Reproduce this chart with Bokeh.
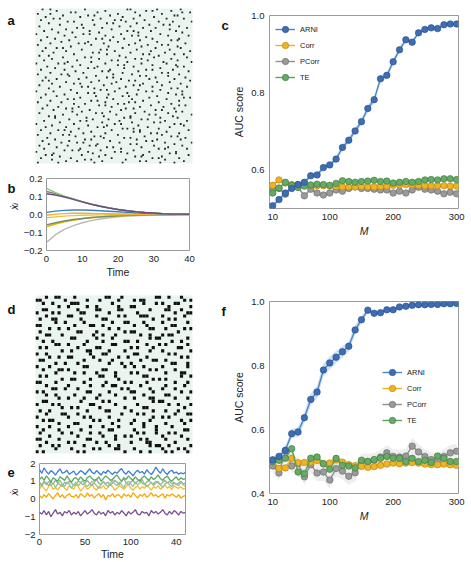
from bokeh.plotting import figure
from bokeh.layouts import column, row
from bokeh.models import Legend, LegendItem, FixedTicker, Range1d
from bokeh.core.properties import value
from bokeh.embed import file_html
from bokeh.resources import INLINE

FONT = "Liberation Sans"

# ---------------- panel a : sparse matrix (100 x 100), column indices of black cells per row
a_rows = [
 [4,9,31,58,60,77,92],[13,44,70,74,86],[22,25,39,63,93,98],[1,9,52,80],[17,33,37,47,66,88,90],
 [6,28,55,75],[11,15,41,62,83,94],[3,36,50,54,69],[20,24,57,78,87,99],[8,45,49,64],
 [15,29,37,72,81,85],[2,53,60,91],[26,30,42,68,76,96],[10,19,48,85],[5,34,58,62,73,89],
 [14,23,40,65,93],[0,30,34,54,79],[18,44,61,65,84,97],[7,25,49,70],[12,38,42,56,74,91],
 [3,21,47,66,86,90],[16,33,52,77],[9,27,31,43,63,95],[1,35,59,71,80,84],[22,46,67,90],
 [6,13,17,55,76,92],[29,41,45,64,85],[4,19,50,73,98],[11,36,40,60,82],[24,45,68,72,88,94],
 [2,8,53,78],[17,31,35,57,75,96],[10,40,63,67,86],[5,26,48,52,71,90],[20,35,58,81,99],
 [0,14,18,44,67,83],[28,52,56,74,89],[7,23,39,62,90,94],[12,33,37,56,79],[3,18,47,70,74,87],
 [25,42,46,65,97],[9,30,55,80,84],[1,16,20,49,61,91],[21,38,66,70,84],[6,32,45,49,76,95],
 [13,27,54,72,88],[4,8,40,59,63,98],[19,35,51,77,85],[10,24,28,48,68,92],[2,43,62,66,80],
 [15,29,33,57,74,96],[8,37,53,86,90],[22,41,45,65,79],[0,11,50,70,74,93],[26,33,37,58,84],
 [6,18,46,64,89,93],[13,38,55,59,77],[3,28,45,72,94,98],[20,24,49,61,83],[9,35,39,68,91],
 [1,16,44,59,63,78],[24,31,52,56,86],[7,40,44,73,91,95],[14,27,48,66,81],[4,19,23,57,62,88],
 [11,34,54,76,80],[23,29,47,69,89,93],[2,38,42,63,84],[17,26,51,72,76,99],[8,12,43,60,87],
 [12,32,56,60,79,90],[21,36,46,67,71],[5,28,32,53,82,96],[15,42,61,75,79],[0,24,50,54,88,92],
 [10,33,45,65,94],[6,19,39,43,71,85],[27,55,58,62,78],[3,14,18,48,66,97],[22,35,62,66,83],
 [9,30,44,73,77,91],[1,17,21,52,80],[25,37,41,69,86,90],[7,43,56,60,95],[12,31,35,64,77,92],
 [4,21,47,70,74],[16,26,30,53,82,99],[8,39,60,64,88],[2,20,34,38,75,93],[13,45,49,67,84],
 [5,28,54,78,82,96],[18,23,27,41,62],[0,33,50,54,72,89],[11,36,58,85,89],[6,10,29,44,68,97],
 [15,40,63,67,80],[3,22,48,74,78,91],[10,31,35,57,82],[19,26,42,66,70,94],[1,14,37,55,79,88],
]

# ---------------- panel d : binary matrix (50 x 50)
d_rows = [
 "...#..##.. ..#....... ..##...#.. ........## ..#...#...",
 "##.......# ......#... #.....#... .#.##..... .......#.#",
 "..#..#.... .###...... ....#..... ....#...#. #...##....",
 ".......#.. #.....#..# ......#... ##........ ..#......#",
 "..##...... ...#.....# #.....##.. ......#... .##...#...",
 "#....#.#.. ....##.... ...#...... ..#....... ....#...##",
 "...#...... ##.......# ......#.#. ...###.... #......#..",
 ".#...##... ....#..... .##....... .......#.. ..#.#.....",
 "......#..# .....#.... ....#...## ....#..... #.......#.",
 "##........ ..#....##. .#........ .#...#.... ...##.....",
 "....#..#.. #......... ...#..#... ......##.. .#.....#.#",
 ".#........ ...##....# ........#. ##........ .....#....",
 "...##...#. ........#. .#...#.... ...#..#... #.##......",
 "#......... .##......# ....#..... ......#.## ........#.",
 "..#..#.... ......#... .#......## ..#....... ...#..#...",
 "......##.. #....#.... ....##.... .....#...# .#......#.",
 ".#.#...... ...#.....# #......... #.#....#.. .....##...",
 "........#. .#....##.. ...#....#. ......#... #........#",
 "#..#...... .......#.. .##....... .##....... ..#.#.....",
 "....#..#.. ##......#. ......#..# .....#.... ......#.#.",
 ".##....... .....#.... #...#..... ...#...##. .#........",
 "......#..# ...#...... ...#...#.. #......... ...##...#.",
 "#...#..... .....##... ........#. .#..#..... #.......#.",
 "..#....##. #......... .##....... ......#.#. ....#.....",
 "......#... ..#..#...# .....#.... #.#....... .#....##..",
 ".#.#...... .......... ##...#.... ....##.... ......#..#",
 "........#. .##....#.. ......#... .......#.# .#........",
 "##....#... .....#.... ..#.....#. #....#.... ....#...#.",
 "...#...... #......#.. .#..##.... ...#...... .#.....#..",
 ".....##..# ...#...... .......#.# ......#... #...#.....",
 "#.#....... ......##.. ...#...... ##.....#.. ......#..#",
 "...#..#... ..#....... #....#.... ....#..... .##.......",
 ".......#.. #....#...# ........#. .#....##.. ....#...#.",
 "..##...... ....#..... .#.#...... .......#.# #.........",
 "#....#.#.. .......##. .....#.... ..#....... ..#..#...#",
 "........#. .#.#...... #.......#. ....##.... .......#..",
 ".#..#..... ......#... ..##...... #......#.. .#...#....",
 "...#....## ...#...... .......#.. ..#.#..... ....#...##",
 "#......... #....#.#.. ...#...... .......#.. #.#.......",
 "..#.##.... ........#. #.....#... .#....#... ......#..#",
 ".......#.. ..##...... ....#..... #...#..... .#.....#..",
 "#...#..... #......#.. .#....#... ....#...#. ...#......",
 "..#....#.. ....#..... ...##..... .#......#. .......##.",
 ".#......#. .#.....#.. #......... ..#.#...#. ..#.#.....",
 "....#..... ...#...... .#...#..#. #......... #.....#...",
 "##.....#.. ......##.. .....#.... ...#.#.... .#......#.",
 "...#...... #.#......# ..#....... #....##... ....#.....",
 ".#...#.#.. .....#.... ...#..#... ......#.## ..#......#",
 "......#... .#......#. #....##... .#........ #....#.#..",
 "#.#....... ...#.#.... ........#. ...#..#... .#.#....#.",
]

# ---------------- panel b : relaxation curves
b_time = [0, 2.5, 5, 7.5, 10, 12.5, 15, 17.5, 20, 22.5, 25, 27.5, 30, 32.5, 35, 37.5, 40]
b_green = [0.145,0.122,0.102,0.086,0.071,0.058,0.047,0.037,0.029,0.022,0.016,0.012,0.008,0.005,0.003,0.002,0.001]
b_purple = [0.115,0.108,0.097,0.084,0.070,0.057,0.046,0.036,0.028,0.021,0.015,0.011,0.008,0.005,0.003,0.002,0.001]
b_gray = [0.128,0.116,0.101,0.086,0.071,0.058,0.046,0.036,0.028,0.021,0.015,0.011,0.008,0.005,0.003,0.002,0.001]
b_blue = [0.012,0.019,0.023,0.025,0.025,0.024,0.021,0.018,0.015,0.012,0.009,0.007,0.005,0.003,0.002,0.001,0.001]
b_yellow1 = [-0.004,0.002,0.005,0.007,0.007,0.006,0.005,0.004,0.003,0.003,0.002,0.001,0.001,0.001,0.0,0.0,0.0]
b_yellow2 = [-0.018,-0.013,-0.009,-0.006,-0.004,-0.003,-0.002,-0.001,-0.001,0.0,0.0,0.0,0.0,0.0,0.0,0.0,0.0]
b_olive = [-0.058,-0.046,-0.036,-0.028,-0.022,-0.017,-0.013,-0.010,-0.007,-0.005,-0.004,-0.003,-0.002,-0.001,-0.001,0.0,0.0]
b_yellow3 = [-0.068,-0.053,-0.041,-0.032,-0.024,-0.018,-0.014,-0.010,-0.008,-0.006,-0.004,-0.003,-0.002,-0.001,-0.001,0.0,0.0]
b_lightgray = [-0.155,-0.112,-0.083,-0.062,-0.046,-0.034,-0.025,-0.018,-0.013,-0.009,-0.007,-0.005,-0.003,-0.002,-0.001,-0.001,0.0]

# ---------------- panel e : noisy time series
e_time = [i * 2.5 for i in range(65)]
e_blue = [1.65,1.45,1.75,1.55,1.40,1.60,1.50,1.35,1.55,1.70,1.45,1.50,1.62,1.40,1.48,1.58,1.35,1.45,1.60,1.52,1.38,1.55,1.70,1.50,1.42,1.60,1.48,1.35,1.55,1.45,1.62,1.50,1.38,1.52,1.45,1.60,1.72,1.50,1.40,1.58,1.45,1.30,1.50,1.62,1.48,1.55,1.40,1.65,1.50,1.38,1.55,1.80,1.60,1.45,1.70,1.50,1.38,1.55,1.62,1.45,1.52,1.40,1.48,1.42,1.50]
e_green = [1.10,1.25,1.05,1.30,1.15,0.95,1.20,1.10,1.00,1.25,1.15,1.05,1.30,1.10,0.95,1.15,1.20,1.05,1.25,1.10,1.00,1.20,1.30,1.15,1.05,1.10,1.25,1.00,1.15,1.30,1.20,1.05,1.10,1.25,1.35,1.15,1.00,1.20,1.10,1.30,1.15,1.05,1.25,1.10,1.00,1.20,1.30,1.15,1.05,1.25,1.10,1.20,1.35,1.15,1.05,1.20,1.30,1.10,1.00,1.15,1.25,1.05,1.20,1.10,1.15]
e_lightgreen = [0.85,0.70,0.95,0.80,1.00,0.75,0.90,0.65,0.85,1.05,0.80,0.70,0.95,0.85,0.60,0.80,0.95,0.75,0.90,1.05,0.80,0.70,0.85,1.00,0.90,0.75,0.60,0.85,0.95,0.80,0.70,0.90,1.05,0.85,0.75,0.95,0.80,0.65,0.90,1.00,0.85,0.70,0.95,0.80,0.90,1.10,0.85,0.70,0.80,0.95,0.75,0.90,1.00,0.80,0.65,0.85,0.95,0.80,0.70,0.90,0.85,0.75,0.95,0.80,0.70]
e_gray = [0.95,0.80,1.00,0.90,0.75,0.95,0.85,1.05,0.90,0.80,0.70,0.95,0.85,1.00,0.90,0.75,0.85,1.00,0.95,0.80,0.90,1.05,0.85,0.75,0.95,1.10,0.90,0.80,1.00,0.85,0.95,0.75,0.90,1.05,0.95,0.80,1.00,1.15,0.90,0.80,0.95,1.05,0.85,1.00,1.10,0.90,0.80,0.95,1.05,0.90,0.85,1.00,0.90,0.80,0.95,1.05,0.90,1.00,0.85,0.95,0.80,0.90,1.00,0.85,0.90]
e_yellow = [0.55,0.75,0.60,0.45,0.70,0.80,0.55,0.65,0.50,0.70,0.85,0.60,0.50,0.75,0.65,0.55,0.80,0.70,0.45,0.60,0.75,0.55,0.65,0.85,0.60,0.50,0.70,0.60,0.75,0.55,0.65,0.80,0.70,0.50,0.60,0.75,0.65,0.55,0.70,0.85,0.60,0.50,0.65,0.75,0.55,0.70,0.60,0.80,0.65,0.50,0.70,0.60,0.75,0.55,0.65,0.80,0.60,0.70,0.55,0.75,0.65,0.60,0.70,0.55,0.60]
e_orange = [0.20,0.05,0.25,0.10,0.30,0.15,0.00,0.20,0.35,0.10,0.25,0.05,0.20,0.30,0.15,0.10,0.25,0.05,0.30,0.20,0.10,0.35,0.15,0.25,0.05,0.20,0.30,0.10,0.25,-0.05,0.20,0.15,0.30,0.10,0.25,0.20,0.05,0.30,0.15,0.25,0.10,0.35,0.20,0.05,0.25,0.15,0.30,0.10,0.20,0.35,0.15,0.25,0.10,0.20,0.30,0.05,0.25,0.15,0.30,0.20,0.10,0.25,0.05,0.15,0.20]
e_purple = [-0.75,-0.85,-0.65,-0.90,-0.70,-1.00,-0.80,-0.60,-0.85,-0.75,-0.95,-0.70,-0.80,-0.65,-0.90,-0.75,-0.85,-0.70,-0.95,-0.80,-0.65,-0.85,-0.75,-0.60,-0.80,-0.90,-0.70,-0.85,-0.75,-0.95,-0.65,-0.80,-0.70,-0.90,-0.75,-0.85,-0.65,-0.80,-0.95,-0.70,-0.85,-0.75,-0.60,-0.85,-0.90,-0.70,-0.80,-0.75,-0.95,-0.65,-0.80,-0.70,-0.85,-0.75,-0.60,-0.80,-0.90,-0.70,-0.85,-0.65,-0.75,-0.90,-0.70,-0.80,-0.75]

# ---------------- panels c and f : AUC vs M
M = [10,20,30,40,50,60,70,80,90,100,110,120,130,140,150,160,170,180,190,200,210,220,230,240,250,260,270,280,290,300]
c_arni = [0.507,0.523,0.540,0.552,0.562,0.568,0.585,0.587,0.606,0.613,0.628,0.658,0.677,0.701,0.725,0.759,0.782,0.836,0.845,0.880,0.911,0.937,0.931,0.955,0.964,0.968,0.966,0.976,0.978,0.978]
c_corr = [0.560,0.574,0.566,0.562,0.562,0.560,0.560,0.559,0.559,0.558,0.557,0.556,0.556,0.556,0.557,0.556,0.556,0.557,0.558,0.560,0.561,0.562,0.561,0.560,0.559,0.559,0.559,0.559,0.558,0.558]
c_pcorr = [0.548,0.552,0.537,0.558,0.555,0.533,0.550,0.540,0.535,0.540,0.548,0.545,0.552,0.556,0.552,0.552,0.550,0.548,0.548,0.540,0.545,0.540,0.548,0.555,0.550,0.548,0.545,0.538,0.542,0.538]
c_te = [0.540,0.553,0.568,0.560,0.555,0.558,0.561,0.563,0.562,0.560,0.565,0.572,0.570,0.568,0.570,0.571,0.573,0.570,0.571,0.566,0.568,0.570,0.568,0.570,0.574,0.575,0.574,0.577,0.577,0.575]
c_arni_sd = [0.004,0.004,0.005,0.005,0.005,0.005,0.006,0.006,0.006,0.006,0.007,0.008,0.008,0.008,0.009,0.009,0.009,0.009,0.008,0.008,0.007,0.006,0.006,0.005,0.004,0.004,0.003,0.003,0.003,0.003]
c_other_sd = [0.004,0.005,0.004,0.004,0.004,0.004,0.004,0.004,0.004,0.004,0.004,0.004,0.004,0.004,0.004,0.004,0.004,0.004,0.004,0.004,0.004,0.004,0.004,0.004,0.004,0.004,0.004,0.004,0.004,0.004]

f_arni = [0.505,0.516,0.535,0.587,0.592,0.637,0.694,0.717,0.786,0.808,0.826,0.843,0.860,0.911,0.943,0.973,0.963,0.965,0.974,0.974,0.983,0.985,0.988,0.990,0.990,0.991,0.991,0.993,0.993,0.994]
f_corr = [0.505,0.478,0.480,0.510,0.496,0.497,0.498,0.503,0.493,0.495,0.505,0.498,0.490,0.487,0.485,0.482,0.484,0.488,0.492,0.495,0.493,0.495,0.497,0.495,0.492,0.490,0.490,0.492,0.490,0.488]
f_pcorr = [0.486,0.464,0.533,0.486,0.493,0.452,0.490,0.464,0.467,0.442,0.478,0.470,0.454,0.465,0.500,0.500,0.504,0.514,0.527,0.516,0.514,0.517,0.548,0.530,0.516,0.506,0.503,0.516,0.527,0.532]
f_te = [0.500,0.504,0.510,0.540,0.467,0.462,0.510,0.514,0.493,0.476,0.510,0.488,0.486,0.480,0.504,0.500,0.506,0.510,0.516,0.510,0.510,0.500,0.510,0.500,0.504,0.497,0.517,0.510,0.500,0.500]
f_arni_sd = [0.008,0.010,0.012,0.014,0.015,0.016,0.018,0.020,0.020,0.020,0.020,0.018,0.016,0.014,0.010,0.008,0.007,0.006,0.005,0.004,0.004,0.003,0.003,0.003,0.003,0.002,0.002,0.002,0.002,0.002]
f_pcorr_sd = [0.020,0.022,0.024,0.022,0.024,0.026,0.024,0.026,0.028,0.026,0.024,0.026,0.028,0.026,0.024,0.024,0.022,0.022,0.024,0.022,0.022,0.024,0.026,0.024,0.022,0.022,0.022,0.024,0.024,0.024]
f_corr_sd = [0.010,0.010,0.010,0.010,0.010,0.010,0.010,0.010,0.010,0.010,0.010,0.010,0.010,0.010,0.010,0.010,0.010,0.010,0.010,0.010,0.010,0.010,0.010,0.010,0.010,0.010,0.010,0.010,0.010,0.010]
f_te_sd = [0.012,0.012,0.014,0.014,0.014,0.014,0.012,0.012,0.012,0.012,0.012,0.012,0.012,0.012,0.010,0.010,0.010,0.010,0.010,0.010,0.010,0.010,0.010,0.010,0.010,0.010,0.010,0.010,0.010,0.010]

METHODS = ["ARNI", "Corr", "PCorr", "TE"]
STYLE = {
    "ARNI": dict(line="#4a87c9", fill="#3d6db5", edge="#2a4c80", band="#a8c7ea", alpha=0.55),
    "Corr": dict(line="#f2b01e", fill="#f0b323", edge="#b07f10", band="#f7dc8c", alpha=0.5),
    "PCorr": dict(line="#8f8f8f", fill="#9a9a9a", edge="#666666", band="#d4d4d4", alpha=0.4),
    "TE": dict(line="#5ca35c", fill="#66aa66", edge="#3d763d", band="#b8dbb2", alpha=0.45),
}

SW = 20  # width of the strip that carries each panel's letter


def strip(h, letter, lx, ly, ylab=None, ylab_y=None):
    """Narrow figure (frame = whole canvas, pixel coordinates) holding the panel letter."""
    s = figure(width=SW, height=h, x_range=Range1d(0, SW), y_range=Range1d(h, 0),
               output_backend="svg", toolbar_location=None, min_border=0,
               x_axis_location=None, y_axis_location=None)
    s.grid.visible = False
    s.outline_line_color = None
    s.background_fill_color = "white"
    s.border_fill_color = "white"
    s.text(x=[lx], y=[ly], text=[letter], text_font=value(FONT), text_font_style="bold",
           text_font_size="13px", text_baseline="top", text_align="left", text_color="#111111")
    if ylab:
        s.text(x=[13], y=[ylab_y], text=[ylab], angle=1.5708, text_font=value(FONT),
               text_font_style="italic", text_font_size="10.5px", text_baseline="middle",
               text_align="center", text_color="#222222")
    return s


def make_fig(w, h, left, right, top, bottom, xr, yr):
    p = figure(width=w, height=h, x_range=Range1d(*xr), y_range=Range1d(*yr),
               output_backend="svg", toolbar_location=None,
               min_border_left=left, min_border_right=right,
               min_border_top=top, min_border_bottom=bottom)
    p.grid.visible = False
    p.outline_line_color = "#9a9a9a"
    p.outline_line_width = 1
    p.border_fill_color = "white"
    p.background_fill_color = "white"
    return p


def style_axes(p, xticks, xlabels, yticks, ylabels, xlab, ylab,
               xstand=4, ystand=4, xlstand=2, ylstand=3, xital=False):
    p.xaxis.ticker = FixedTicker(ticks=xticks)
    p.xaxis.major_label_overrides = dict(zip(xticks, xlabels))
    p.yaxis.ticker = FixedTicker(ticks=yticks)
    p.yaxis.major_label_overrides = dict(zip(yticks, ylabels))
    for ax in p.axis:
        ax.axis_line_color = None
        ax.major_tick_line_color = None
        ax.minor_tick_line_color = None
        ax.major_tick_out = 0
        ax.major_tick_in = 0
        ax.major_label_text_font = FONT
        ax.major_label_text_font_size = "9.5px"
        ax.major_label_text_color = "#222222"
        ax.axis_label_text_font = FONT
        ax.axis_label_text_font_size = "10.5px"
        ax.axis_label_text_font_style = "normal"
        ax.axis_label_text_color = "#222222"
    p.xaxis.major_label_standoff = xstand
    p.yaxis.major_label_standoff = ystand
    p.xaxis.axis_label_standoff = xlstand
    p.yaxis.axis_label_standoff = ylstand
    if xlab:
        p.xaxis.axis_label = xlab
    if ylab:
        p.yaxis.axis_label = ylab
    if xital:
        p.xaxis.axis_label_text_font_style = "italic"


def matrix_fig(w, h, left, right, top, bottom, n):
    p = figure(width=w, height=h, x_range=Range1d(0, n), y_range=Range1d(0, n),
               output_backend="svg", toolbar_location=None,
               min_border_left=left, min_border_right=right,
               min_border_top=top, min_border_bottom=bottom,
               x_axis_location=None, y_axis_location=None)
    p.grid.visible = False
    p.outline_line_color = None
    p.background_fill_color = "#e9f5ee"
    p.border_fill_color = "white"
    return p


# ---------- a
pa = matrix_fig(210 - SW, 172, 35 - SW, 18, 8, 9, 100)
ax, ay = [], []
for r, cols in enumerate(a_rows):
    for c in cols:
        ax.append(c + 0.5)
        ay.append(100 - r - 0.5)
pa.rect(x=ax, y=ay, width=1.15, height=1.2, fill_color="#262626", line_color=None)
sa = strip(172, "a", 7, 5)

# ---------- b
pb = make_fig(210 - SW, 108, 46 - SW, 21, 6, 29, (0, 40), (-0.2, 0.2))
b_series = [
    (b_lightgray, "#b8b8b8"), (b_yellow3, "#f0b000"), (b_olive, "#74905e"),
    (b_yellow2, "#e9c24e"), (b_yellow1, "#f2b32a"), (b_blue, "#3b7fc4"),
    (b_gray, "#808080"), (b_green, "#8cc47a"), (b_purple, "#6d4a7e"),
]
for ys, col in b_series:
    pb.line(b_time, ys, line_color=col, line_width=1.4)
style_axes(pb, [0, 10, 20, 30, 40], ["0", "10", "20", "30", "40"],
           [-0.2, -0.1, 0.0, 0.1, 0.2], ["\u22120.2", "\u22120.1", "0.0", "0.1", "0.2"],
           "Time", None, xstand=5, ystand=4, xlstand=1)
sb = strip(108, "b", 7, 4, "\u1e8b\u1d62", 42)


def auc_fig(h, top, bottom, yr, yticks, ylabels, arni, corr, pcorr, te,
            arni_sd, corr_sd, pcorr_sd, te_sd, legend_loc):
    p = make_fig(261 - SW, h, 59 - SW, 13, top, bottom, (5, 303), yr)
    data = {"ARNI": (arni, arni_sd), "Corr": (corr, corr_sd),
            "PCorr": (pcorr, pcorr_sd), "TE": (te, te_sd)}
    for name in ["PCorr", "Corr", "TE", "ARNI"]:
        ys, sd = data[name]
        st = STYLE[name]
        p.varea(x=M, y1=[v - s for v, s in zip(ys, sd)], y2=[v + s for v, s in zip(ys, sd)],
                fill_color=st["band"], fill_alpha=st["alpha"])
    items = {}
    for name in ["PCorr", "Corr", "TE", "ARNI"]:
        ys, sd = data[name]
        st = STYLE[name]
        ln = p.line(M, ys, line_color=st["line"], line_width=1.4)
        sc = p.scatter(M, ys, size=6.5, fill_color=st["fill"], line_color=st["edge"], line_width=0.6)
        items[name] = [ln, sc]
    legend = Legend(items=[LegendItem(label=n, renderers=items[n]) for n in METHODS],
                    location=legend_loc)
    legend.border_line_color = None
    legend.background_fill_alpha = 0
    legend.label_text_font = FONT
    legend.label_text_font_size = "7.5px"
    legend.label_text_color = "#222222"
    legend.glyph_width = 20
    legend.glyph_height = 16
    legend.label_height = 16
    legend.label_standoff = 5
    legend.spacing = 0
    legend.padding = 5
    legend.margin = 0
    p.add_layout(legend, "center")
    style_axes(p, [10, 100, 200, 300], ["10", "100", "200", "300"], yticks, ylabels,
               "M", "AUC score", xstand=5, ystand=5, xlstand=2, ylstand=3, xital=True)
    return p


pc = auc_fig(280, 15, 72, (0.5, 1.0), [0.6, 0.8, 1.0], ["0.6", "0.8", "1.0"],
             c_arni, c_corr, c_pcorr, c_te, c_arni_sd, c_other_sd, c_other_sd, c_other_sd,
             (6, 123))
sc_ = strip(280, "c", 11, 4)

# ---------- d
pd_ = matrix_fig(210 - SW, 176, 35 - SW, 18, 15, 3, 50)
dx, dy = [], []
for r, s in enumerate(d_rows):
    s = (s.replace(" ", "") + "." * 50)[:50]
    for c, ch in enumerate(s):
        if ch == "#":
            dx.append(c + 0.5)
            dy.append(50 - r - 0.5)
pd_.rect(x=dx, y=dy, width=1.0, height=1.0, fill_color="#111111", line_color=None)
sd = strip(176, "d", 7, 7)

# ---------- e
pe = make_fig(210 - SW, 106, 39 - SW, 25, 7, 27, (0, 160), (-2, 2))
e_series = [
    (e_purple, "#7a4f8e"), (e_orange, "#f5a800"), (e_yellow, "#f3bb3a"),
    (e_gray, "#a6a6a6"), (e_lightgreen, "#8fc88f"), (e_green, "#5aa860"), (e_blue, "#3b7dd8"),
]
for ys, col in e_series:
    pe.line(e_time, ys, line_color=col, line_width=1.3)
style_axes(pe, [0, 50, 100, 150], ["0", "50", "100", "40"],
           [-2, -1, 0, 1, 2], ["\u22122", "\u22121", "0", "1", "2"],
           "Time", None, xstand=4, ystand=4, xlstand=0)
se = strip(106, "e", 7, 7, "\u1e8b\u1d62", 43)

# ---------- f
pf = auc_fig(282, 21, 69, (0.4, 1.0), [0.4, 0.6, 0.8, 1.0], ["0.4", "0.6", "0.8", "1.0"],
             f_arni, f_corr, f_pcorr, f_te, f_arni_sd, f_corr_sd, f_pcorr_sd, f_te_sd,
             (113, 65))
sf = strip(282, "f", 11, 4)

layout = column(
    row(column(row(sa, pa), row(sb, pb)), row(sc_, pc)),
    row(column(row(sd, pd_), row(se, pe)), row(sf, pf)),
)

open("out.html", "w").write(file_html(layout, INLINE, title="ARNI figure"))
